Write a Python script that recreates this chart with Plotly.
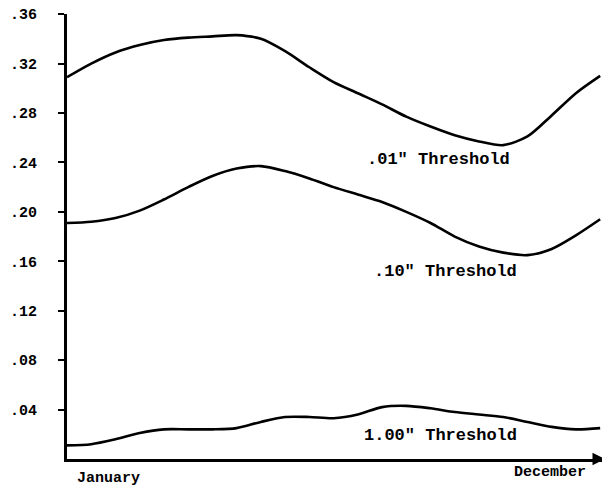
import plotly.graph_objects as go

months = [1.0, 1.5, 2.0, 2.5, 3.0, 3.5, 4.0, 4.5, 5.0, 5.5, 6.0, 6.5,
          7.0, 7.5, 8.0, 8.5, 9.0, 9.5, 10.0, 10.5, 11.0, 11.5, 12.0]

thr_001 = [0.309, 0.320, 0.329, 0.335, 0.339, 0.341, 0.342, 0.343, 0.340, 0.330, 0.317, 0.305,
           0.296, 0.287, 0.277, 0.269, 0.262, 0.257, 0.254, 0.261, 0.278, 0.296, 0.310]
thr_010 = [0.191, 0.192, 0.195, 0.201, 0.210, 0.220, 0.229, 0.235, 0.237, 0.233, 0.227, 0.220,
           0.214, 0.208, 0.200, 0.191, 0.180, 0.172, 0.167, 0.165, 0.170, 0.181, 0.194]
thr_100 = [0.011, 0.012, 0.016, 0.021, 0.024, 0.024, 0.024, 0.025, 0.030, 0.034, 0.034, 0.033,
           0.036, 0.042, 0.043, 0.041, 0.038, 0.036, 0.034, 0.030, 0.026, 0.024, 0.025]

y_ticks = [0.04, 0.08, 0.12, 0.16, 0.20, 0.24, 0.28, 0.32, 0.36]
y_tick_labels = [".04", ".08", ".12", ".16", ".20", ".24", ".28", ".32", ".36"]

series_labels = ['.01" Threshold', '.10" Threshold', '1.00" Threshold']
label_pos = [(8.66, 0.242), (8.80, 0.152), (8.70, 0.019)]

FONT = "Liberation Mono"

fig = go.Figure()
for ys in (thr_001, thr_010, thr_100):
    fig.add_trace(go.Scatter(x=months, y=ys, mode="lines",
                             line=dict(color="black", width=2.6, shape="spline", smoothing=0.8),
                             showlegend=False, hoverinfo="skip"))

annotations = []
for text, (ax, ay) in zip(series_labels, label_pos):
    annotations.append(dict(x=ax, y=ay, xref="x", yref="y", text=text, showarrow=False,
                            font=dict(family=FONT, size=17, color="black", weight="bold")))
annotations.append(dict(x=1.17, y=-0.044, xref="x", yref="paper", text="January", showarrow=False,
                        xanchor="left", yanchor="middle",
                        font=dict(family=FONT, size=15, color="black", weight="bold")))
annotations.append(dict(x=10.97, y=-0.030, xref="x", yref="paper", text="December", showarrow=False,
                        yanchor="middle",
                        font=dict(family=FONT, size=15, color="black", weight="bold")))
annotations.append(dict(x=12.1, y=0, xref="x", yref="y", ax=-12, ay=0, axref="pixel", ayref="pixel",
                        text="", showarrow=True, arrowhead=2, arrowsize=1, arrowwidth=2.5,
                        arrowcolor="black"))

fig.update_layout(
    width=602, height=481,
    margin=dict(l=59, r=5, t=6, b=29.5, autoexpand=False),
    paper_bgcolor="white", plot_bgcolor="white",
    showlegend=False,
    annotations=annotations,
    xaxis=dict(range=[1, 12.1], showgrid=False, zeroline=False, showticklabels=False,
               ticks="", showline=True, linecolor="black", linewidth=3),
    yaxis=dict(range=[0, 0.3601], showgrid=False, zeroline=False, showline=True,
               linecolor="black", linewidth=3, ticks="outside", ticklen=6, tickwidth=2,
               tickcolor="black", tickvals=y_ticks, ticktext=y_tick_labels,
               ticklabelstandoff=18, automargin=False, ticklabeloverflow="allow",
               tickfont=dict(family=FONT, size=15, color="black", weight="bold")),
)

fig.write_html("out.html")
